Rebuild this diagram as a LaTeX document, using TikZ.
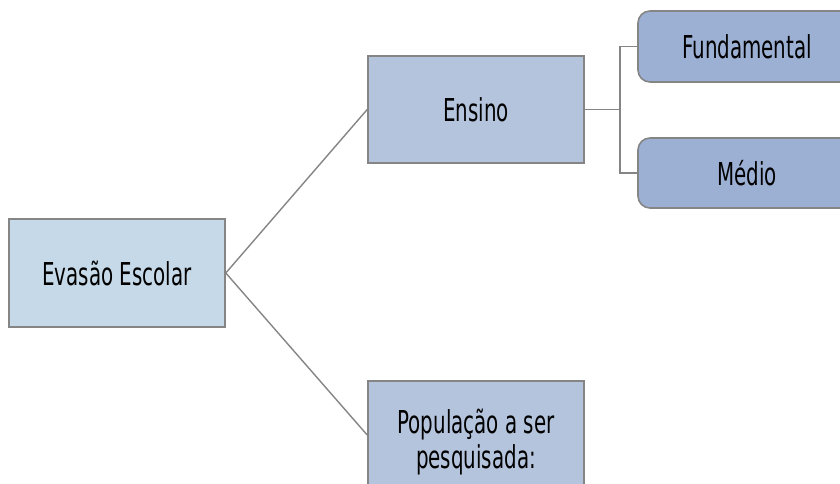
\documentclass[tikz,border=0pt]{standalone}
\usepackage{fontspec}
\newfontfamily\boxfont[FakeStretch=0.63]{DejaVu Sans}
\definecolor{boxA}{HTML}{C6D9E8}
\definecolor{boxB}{HTML}{B5C4DD}
\definecolor{boxC}{HTML}{9CB0D4}
\definecolor{edge}{HTML}{858585}
\begin{document}
\begin{tikzpicture}[x=1pt,y=-1pt,
  base/.style={draw=edge, line width=1.6pt, minimum width=216pt, inner sep=0pt, align=center,
    font=\boxfont\fontsize{31.5pt}{34.5pt}\selectfont},
  rootbox/.style={base, fill=boxA, minimum height=108pt},
  midbox/.style={base, fill=boxB, minimum height=107pt},
  leafbox/.style={base, fill=boxC, minimum height=71pt, minimum width=218pt, rounded corners=12pt},
  plaintext/.style={inner sep=0pt, align=center, font=\boxfont\fontsize{31.5pt}{34.5pt}\selectfont},
  conn/.style={draw=edge, line width=1.4pt}]
\useasboundingbox (0,0) rectangle (840,484);
\clip (0,0) rectangle (840,484);
\node[rootbox] (root) at (117,273) {Evasão Escolar};
\node[midbox] (ens) at (476,109.5) {Ensino};
\node[midbox, minimum height=108pt] (pop) at (476,435) {};
\node[plaintext] (poptext) at (476,442) {População a ser\\pesquisada:};
\node[leafbox] (fun) at (747,46.5) {Fundamental};
\node[leafbox, minimum height=70pt] (med) at (747,173) {Médio};
\coordinate (j) at (620,109.5);
\draw[conn] (root.east) -- (ens.west);
\draw[conn] (root.east) -- (pop.west);
\draw[conn] (ens.east) -- (j);
\draw[conn] (j) |- (fun.west);
\draw[conn] (j) |- (med.west);
\end{tikzpicture}
\end{document}
